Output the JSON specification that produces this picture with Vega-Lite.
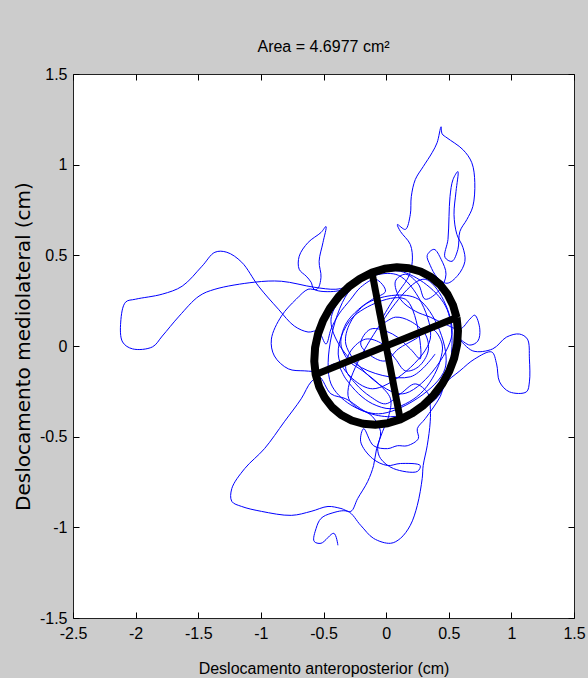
{
"$schema":"https://vega.github.io/schema/vega-lite/v6.json",
"width":501,"height":544,
"autosize":"none",
"padding":{"left":73,"top":74,"right":14,"bottom":60},
"background":"#cccccc",
"title":{"text":"Area = 4.6977 cm²","fontSize":16,"font":"Liberation Sans","fontWeight":"normal","color":"#000000","offset":11},
"config":{"view":{"fill":"white","stroke":"#222222","strokeWidth":1},
"axis":{"grid":false,"domain":false,"ticks":true,"tickColor":"#000000","tickSize":6,"offset":-6,"tickWidth":1,"labelColor":"#000000","labelFont":"Liberation Sans","labelFontSize":16,"labelFlush":false,"labelOverlap":false,"labelExpr":"toString(datum.value)","titleColor":"#000000","titleFontWeight":"normal"}},
"datasets":{
"cop":[
{"i":0,"x":-0.385,"y":-1.099},{"i":1,"x":-0.417,"y":-1.033},{"i":2,"x":-0.520,"y":-1.088},{"i":3,"x":-0.575,"y":-1.077},{"i":4,"x":-0.559,"y":-1.006},{"i":5,"x":-0.520,"y":-0.951},{"i":6,"x":-0.440,"y":-0.923},{"i":7,"x":-0.306,"y":-0.912},
{"i":8,"x":-0.203,"y":-0.989},{"i":9,"x":-0.100,"y":-1.061},{"i":10,"x":0.035,"y":-1.088},{"i":11,"x":0.114,"y":-1.061},{"i":12,"x":0.193,"y":-0.989},{"i":13,"x":0.249,"y":-0.879},{"i":14,"x":0.288,"y":-0.731},{"i":15,"x":0.296,"y":-0.659},{"i":16,"x":0.328,"y":-0.550},{"i":17,"x":0.352,"y":-0.418},{"i":18,"x":0.352,"y":-0.330},{"i":19,"x":0.336,"y":-0.264},
{"i":20,"x":0.233,"y":-0.209},{"i":21,"x":0.114,"y":-0.264},{"i":22,"x":-0.005,"y":-0.319},{"i":23,"x":-0.124,"y":-0.280},{"i":24,"x":-0.242,"y":-0.209},{"i":25,"x":-0.322,"y":-0.126},{"i":26,"x":-0.282,"y":-0.027},{"i":27,"x":-0.163,"y":0.038},{"i":28,"x":-0.029,"y":0.011},{"i":29,"x":0.074,"y":-0.071},{"i":30,"x":0.154,"y":-0.137},{"i":31,"x":0.257,"y":-0.115},{"i":32,"x":0.336,"y":-0.027},{"i":33,"x":0.312,"y":0.066},{"i":34,"x":0.193,"y":0.137},{"i":35,"x":0.074,"y":0.159},{"i":36,"x":-0.044,"y":0.121},
{"i":37,"x":0.035,"y":0.231},{"i":38,"x":0.114,"y":0.313},{"i":39,"x":0.177,"y":0.379},{"i":40,"x":0.209,"y":0.467},{"i":41,"x":0.193,"y":0.560},{"i":42,"x":0.114,"y":0.632},{"i":43,"x":0.090,"y":0.670},{"i":44,"x":0.154,"y":0.643},{"i":45,"x":0.193,"y":0.725},{"i":46,"x":0.201,"y":0.824},{"i":47,"x":0.233,"y":0.918},{"i":48,"x":0.296,"y":0.989},{"i":49,"x":0.367,"y":1.066},{"i":50,"x":0.407,"y":1.121},{"i":51,"x":0.439,"y":1.209},{"i":52,"x":0.447,"y":1.170},{"i":53,"x":0.486,"y":1.148},{"i":54,"x":0.613,"y":1.083},{"i":55,"x":0.684,"y":1.011},{"i":56,"x":0.708,"y":0.901},{"i":57,"x":0.692,"y":0.769},{"i":58,"x":0.645,"y":0.698},{"i":59,"x":0.589,"y":0.632},{"i":60,"x":0.573,"y":0.533},{"i":61,"x":0.526,"y":0.467},{"i":62,"x":0.470,"y":0.489},{"i":63,"x":0.494,"y":0.588},{"i":64,"x":0.502,"y":0.714},{"i":65,"x":0.510,"y":0.824},{"i":66,"x":0.534,"y":0.918},{"i":67,"x":0.573,"y":0.962},{"i":68,"x":0.558,"y":0.852},{"i":69,"x":0.542,"y":0.725},{"i":70,"x":0.565,"y":0.615},{"i":71,"x":0.613,"y":0.544},{"i":72,"x":0.629,"y":0.467},{"i":73,"x":0.573,"y":0.390},{"i":74,"x":0.486,"y":0.346},{"i":75,"x":0.407,"y":0.379},{"i":76,"x":0.352,"y":0.445},{"i":77,"x":0.328,"y":0.500},{"i":78,"x":0.383,"y":0.533},{"i":79,"x":0.439,"y":0.478},{"i":80,"x":0.478,"y":0.396},
{"i":81,"x":0.431,"y":0.313},{"i":82,"x":0.312,"y":0.258},{"i":83,"x":0.257,"y":0.341},{"i":84,"x":0.154,"y":0.396},{"i":85,"x":0.074,"y":0.357},{"i":86,"x":0.114,"y":0.258},{"i":87,"x":0.233,"y":0.192},{"i":88,"x":0.352,"y":0.159},{"i":89,"x":0.470,"y":0.121},
{"i":90,"x":0.589,"y":0.093},{"i":91,"x":0.668,"y":0.148},{"i":92,"x":0.708,"y":0.170},{"i":93,"x":0.748,"y":0.093},{"i":94,"x":0.732,"y":0.027},{"i":95,"x":0.668,"y":0.005},{"i":96,"x":0.589,"y":0.038},
{"i":97,"x":0.692,"y":-0.027},{"i":98,"x":0.851,"y":-0.016},{"i":99,"x":0.961,"y":0.049},{"i":100,"x":1.064,"y":0.066},{"i":101,"x":1.128,"y":0.038},{"i":102,"x":1.144,"y":-0.071},{"i":103,"x":1.144,"y":-0.198},{"i":104,"x":1.120,"y":-0.253},{"i":105,"x":0.985,"y":-0.253},{"i":106,"x":0.906,"y":-0.198},{"i":107,"x":0.882,"y":-0.099},{"i":108,"x":0.843,"y":-0.033},{"i":109,"x":0.708,"y":-0.071},{"i":110,"x":0.589,"y":-0.137},{"i":111,"x":0.470,"y":-0.209},{"i":112,"x":0.431,"y":-0.280},
{"i":113,"x":0.312,"y":-0.401},{"i":114,"x":0.249,"y":-0.456},{"i":115,"x":0.257,"y":-0.511},{"i":116,"x":0.169,"y":-0.550},{"i":117,"x":0.090,"y":-0.550},{"i":118,"x":0.011,"y":-0.566},{"i":119,"x":-0.100,"y":-0.550},{"i":120,"x":-0.179,"y":-0.456},{"i":121,"x":-0.203,"y":-0.528},{"i":122,"x":-0.108,"y":-0.621},{"i":123,"x":0.011,"y":-0.659},{"i":124,"x":0.114,"y":-0.648},{"i":125,"x":0.272,"y":-0.659},{"i":126,"x":0.249,"y":-0.692},{"i":127,"x":0.059,"y":-0.676},{"i":128,"x":-0.044,"y":-0.621},{"i":129,"x":-0.068,"y":-0.566},{"i":130,"x":-0.044,"y":-0.473},{"i":131,"x":-0.108,"y":-0.390},{"i":132,"x":-0.203,"y":-0.346},{"i":133,"x":-0.322,"y":-0.291},
{"i":134,"x":-0.440,"y":-0.264},{"i":135,"x":-0.535,"y":-0.170},{"i":136,"x":-0.599,"y":-0.198},{"i":137,"x":-0.678,"y":-0.291},{"i":138,"x":-0.813,"y":-0.418},{"i":139,"x":-0.971,"y":-0.566},{"i":140,"x":-1.129,"y":-0.676},{"i":141,"x":-1.232,"y":-0.786},{"i":142,"x":-1.232,"y":-0.857},{"i":143,"x":-1.153,"y":-0.885},{"i":144,"x":-0.995,"y":-0.912},{"i":145,"x":-0.757,"y":-0.934},{"i":146,"x":-0.599,"y":-0.912},{"i":147,"x":-0.464,"y":-0.885},{"i":148,"x":-0.361,"y":-0.896},{"i":149,"x":-0.282,"y":-0.912},{"i":150,"x":-0.227,"y":-0.841},{"i":151,"x":-0.147,"y":-0.747},{"i":152,"x":-0.100,"y":-0.659},{"i":153,"x":-0.076,"y":-0.566},{"i":154,"x":-0.029,"y":-0.473},{"i":155,"x":0.019,"y":-0.390},{"i":156,"x":0.035,"y":-0.291},
{"i":157,"x":-0.060,"y":-0.209},{"i":158,"x":-0.187,"y":-0.137},{"i":159,"x":-0.298,"y":-0.082},{"i":160,"x":-0.361,"y":0.011},{"i":161,"x":-0.322,"y":0.121},{"i":162,"x":-0.219,"y":0.203},{"i":163,"x":-0.108,"y":0.258},{"i":164,"x":-0.005,"y":0.302},{"i":165,"x":-0.084,"y":0.368},{"i":166,"x":-0.203,"y":0.324},{"i":167,"x":-0.282,"y":0.258},{"i":168,"x":-0.377,"y":0.176},{"i":169,"x":-0.440,"y":0.093},{"i":170,"x":-0.480,"y":0.011},
{"i":171,"x":-0.543,"y":0.082},{"i":172,"x":-0.623,"y":0.077},{"i":173,"x":-0.733,"y":0.110},{"i":174,"x":-0.860,"y":0.203},{"i":175,"x":-1.019,"y":0.330},{"i":176,"x":-1.153,"y":0.462},{"i":177,"x":-1.272,"y":0.517},{"i":178,"x":-1.367,"y":0.517},{"i":179,"x":-1.470,"y":0.440},{"i":180,"x":-1.628,"y":0.330},{"i":181,"x":-1.787,"y":0.286},{"i":182,"x":-2.001,"y":0.258},{"i":183,"x":-2.080,"y":0.242},{"i":184,"x":-2.119,"y":0.132},{"i":185,"x":-2.104,"y":0.022},{"i":186,"x":-2.024,"y":-0.016},{"i":187,"x":-1.866,"y":-0.005},{"i":188,"x":-1.787,"y":0.055},{"i":189,"x":-1.652,"y":0.165},{"i":190,"x":-1.494,"y":0.275},{"i":191,"x":-1.367,"y":0.313},{"i":192,"x":-1.050,"y":0.352},{"i":193,"x":-0.836,"y":0.357},{"i":194,"x":-0.575,"y":0.324},{"i":195,"x":-0.401,"y":0.313},{"i":196,"x":-0.282,"y":0.330},
{"i":197,"x":-0.401,"y":0.302},{"i":198,"x":-0.575,"y":0.313},{"i":199,"x":-0.599,"y":0.352},{"i":200,"x":-0.638,"y":0.385},{"i":201,"x":-0.694,"y":0.423},{"i":202,"x":-0.694,"y":0.495},{"i":203,"x":-0.623,"y":0.571},{"i":204,"x":-0.520,"y":0.626},{"i":205,"x":-0.480,"y":0.659},{"i":206,"x":-0.504,"y":0.571},{"i":207,"x":-0.535,"y":0.467},{"i":208,"x":-0.520,"y":0.379},{"i":209,"x":-0.551,"y":0.313},{"i":210,"x":-0.623,"y":0.313},{"i":211,"x":-0.718,"y":0.258},{"i":212,"x":-0.836,"y":0.165},{"i":213,"x":-0.916,"y":0.038},{"i":214,"x":-0.892,"y":-0.055},{"i":215,"x":-0.781,"y":-0.126},{"i":216,"x":-0.654,"y":-0.137},{"i":217,"x":-0.520,"y":-0.137},
{"i":218,"x":-0.401,"y":-0.099},{"i":219,"x":-0.322,"y":-0.181},{"i":220,"x":-0.219,"y":-0.264},{"i":221,"x":-0.108,"y":-0.319},{"i":222,"x":0.035,"y":-0.346},{"i":223,"x":0.154,"y":-0.319},{"i":224,"x":0.272,"y":-0.264},{"i":225,"x":0.367,"y":-0.181},{"i":226,"x":0.431,"y":-0.082},{"i":227,"x":0.447,"y":0.011},{"i":228,"x":0.367,"y":0.093},{"i":229,"x":0.233,"y":0.038},{"i":230,"x":0.098,"y":-0.016},{"i":231,"x":-0.005,"y":-0.082},{"i":232,"x":-0.108,"y":-0.060},{"i":233,"x":-0.203,"y":0.011},{"i":234,"x":-0.124,"y":0.093},{"i":235,"x":0.051,"y":0.066},{"i":236,"x":0.193,"y":-0.016},{"i":237,"x":0.272,"y":-0.071},
{"i":238,"x":0.154,"y":0.258},{"i":239,"x":-0.266,"y":0.159},{"i":240,"x":-0.377,"y":-0.071},{"i":241,"x":-0.108,"y":-0.236},{"i":242,"x":0.352,"y":0.038},{"i":243,"x":0.098,"y":0.390},{"i":244,"x":-0.282,"y":0.313},{"i":245,"x":-0.440,"y":-0.209},{"i":246,"x":-0.060,"y":-0.374},{"i":247,"x":0.470,"y":-0.126},{"i":248,"x":0.257,"y":0.258},{"i":249,"x":-0.163,"y":0.231},{"i":250,"x":-0.322,"y":0.011},{"i":251,"x":0.130,"y":-0.264},{"i":252,"x":0.526,"y":0.066},{"i":253,"x":0.312,"y":0.368},{"i":254,"x":-0.029,"y":0.137},{"i":255,"x":-0.298,"y":-0.291},{"i":256,"x":0.035,"y":-0.390},{"i":257,"x":0.431,"y":-0.264},{"i":258,"x":0.486,"y":0.203},{"i":259,"x":0.114,"y":0.412},{"i":260,"x":-0.203,"y":0.357},{"i":261,"x":-0.440,"y":0.148},{"i":262,"x":-0.242,"y":-0.099},{"i":263,"x":0.193,"y":-0.170},{"i":264,"x":0.391,"y":-0.044}
],
"ellipse":[
{"k":0,"x":0.5625,"y":0.157},{"k":1,"x":0.5344,"y":0.2248},{"k":2,"x":0.49,"y":0.2858},{"k":3,"x":0.4306,"y":0.3383},{"k":4,"x":0.3583,"y":0.3803},{"k":5,"x":0.2751,"y":0.4108},{"k":6,"x":0.1835,"y":0.4288},{"k":7,"x":0.0863,"y":0.4338},{"k":8,"x":-0.0135,"y":0.4257},{"k":9,"x":-0.1129,"y":0.4045},{"k":10,"x":-0.2089,"y":0.3711},{"k":11,"x":-0.2985,"y":0.3264},{"k":12,"x":-0.3791,"y":0.2718},{"k":13,"x":-0.4481,"y":0.209},{"k":14,"x":-0.5035,"y":0.1397},{"k":15,"x":-0.5436,"y":0.0663},{"k":16,"x":-0.5672,"y":-0.0092},{"k":17,"x":-0.5736,"y":-0.0844},{"k":18,"x":-0.5625,"y":-0.157},{"k":19,"x":-0.5344,"y":-0.2248},{"k":20,"x":-0.49,"y":-0.2858},{"k":21,"x":-0.4306,"y":-0.3383},{"k":22,"x":-0.3583,"y":-0.3803},{"k":23,"x":-0.2751,"y":-0.4108},{"k":24,"x":-0.1835,"y":-0.4288},{"k":25,"x":-0.0863,"y":-0.4338},{"k":26,"x":0.0135,"y":-0.4257},{"k":27,"x":0.1129,"y":-0.4045},{"k":28,"x":0.2089,"y":-0.3711},{"k":29,"x":0.2985,"y":-0.3264},{"k":30,"x":0.3791,"y":-0.2718},{"k":31,"x":0.4481,"y":-0.209},{"k":32,"x":0.5035,"y":-0.1397},{"k":33,"x":0.5436,"y":-0.0663},{"k":34,"x":0.5672,"y":0.0092},{"k":35,"x":0.5736,"y":0.0844},{"k":36,"x":0.5625,"y":0.157}
],
"axes":[
{"seg":"major","k":0,"x":-0.5625,"y":-0.157},{"seg":"major","k":1,"x":0.5625,"y":0.157},
{"seg":"minor","k":0,"x":-0.1129,"y":0.4045},{"seg":"minor","k":1,"x":0.1129,"y":-0.4045}
]
},
"layer":[
{"data":{"name":"cop"},
"mark":{"type":"line","color":"#0000ff","strokeWidth":1,"interpolate":"catmull-rom"},
"encoding":{
"x":{"field":"x","type":"quantitative","scale":{"domain":[-2.5,1.5],"nice":false,"zero":false},
"axis":{"orient":"bottom","zindex":2,"values":[-2.5,-2,-1.5,-1,-0.5,0,0.5,1,1.5],"labelPadding":7,"title":"Deslocamento anteroposterior (cm)","titleFont":"Liberation Sans","titleFontSize":16,"titlePadding":19}},
"y":{"field":"y","type":"quantitative","scale":{"domain":[-1.5,1.5],"nice":false,"zero":false},
"axis":{"orient":"left","zindex":2,"values":[-1.5,-1,-0.5,0,0.5,1,1.5],"labelPadding":6,"title":"Deslocamento mediolateral (cm)","titleFont":"DejaVu Sans","titleFontSize":20,"titlePadding":6}},
"order":{"field":"i","type":"quantitative"}}},
{"data":{"name":"ellipse"},
"mark":{"type":"line","color":"#000000","strokeWidth":8,"strokeJoin":"round"},
"encoding":{
"x":{"field":"x","type":"quantitative","axis":{"orient":"top","zindex":2,"values":[-2.5,-2,-1.5,-1,-0.5,0,0.5,1,1.5],"labels":false,"title":null}},
"y":{"field":"y","type":"quantitative","axis":{"orient":"right","zindex":2,"values":[-1.5,-1,-0.5,0,0.5,1,1.5],"labels":false,"title":null}},
"order":{"field":"k","type":"quantitative"}}},
{"data":{"name":"axes"},
"mark":{"type":"line","color":"#000000","strokeWidth":7},
"encoding":{
"x":{"field":"x","type":"quantitative","axis":null},
"y":{"field":"y","type":"quantitative","axis":null},
"detail":{"field":"seg","type":"nominal"},
"order":{"field":"k","type":"quantitative"}}}
],
"resolve":{"axis":{"x":"independent","y":"independent"}}
}
